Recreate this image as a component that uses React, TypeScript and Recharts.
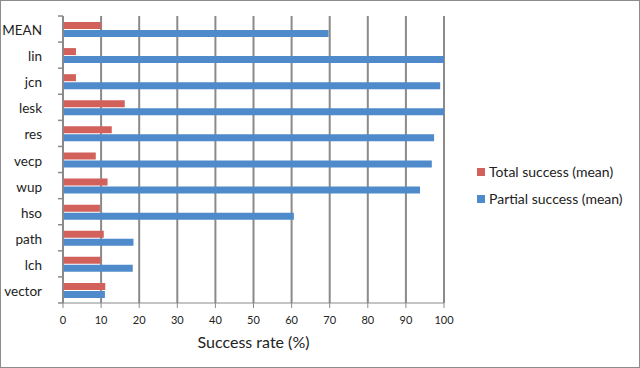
import React from "react";
import { BarChart, Bar, XAxis, YAxis, CartesianGrid, Legend } from "recharts";

const categories = ["MEAN", "lin", "jcn", "lesk", "res", "vecp", "wup", "hso", "path", "lch", "vector"];
const totalSuccess = [10, 3.4, 3.4, 16.2, 12.8, 8.6, 11.7, 9.7, 10.7, 9.9, 11.1];
const partialSuccess = [69.7, 100, 99, 100, 97.4, 96.8, 93.7, 60.6, 18.5, 18.3, 11];
const xTicks = [0, 10, 20, 30, 40, 50, 60, 70, 80, 90, 100];

const RED = "#d2605b";
const BLUE = "#4f8bca";
const GRAY = "#8a8a8a";
const FONT = "Lato, 'Noto Sans', sans-serif";
const TICK_GAP = 21;

const data = categories.map((c, i) => ({
  name: c,
  total: totalSuccess[i],
  partial: partialSuccess[i],
}));

const legendItems = [
  { label: "Total success (mean)", color: RED },
  { label: "Partial success (mean)", color: BLUE },
];

const LegendContent = () => (
  <div style={{ fontFamily: FONT, fontSize: 14, color: "#222" }}>
    {legendItems.map((it) => (
      <div key={it.label} style={{ display: "flex", alignItems: "center", height: 27 }}>
        <span style={{ width: 8, height: 8, background: it.color, display: "inline-block", marginRight: 4 }} />
        <span>{it.label}</span>
      </div>
    ))}
  </div>
);

const CategoryTick = (props: any) => {
  const { x, y, payload, index, visibleTicksCount } = props;
  const half = payload && payload.offset ? payload.offset : 287 / 22;
  const axisX = x + TICK_GAP;
  const last = index === (visibleTicksCount ?? categories.length) - 1;
  return (
    <g>
      <line x1={axisX - 5} x2={axisX} y1={y - half} y2={y - half} stroke={GRAY} strokeWidth={1.5} />
      {last && <line x1={axisX - 5} x2={axisX} y1={y + half} y2={y + half} stroke={GRAY} strokeWidth={1.5} />}
      <text x={x} y={y} dy={6} textAnchor="end" fontSize={13.5} fill="#222" fontFamily={FONT}>
        {payload.value}
      </text>
    </g>
  );
};

export default function App() {
  return (
    <div
      style={{
        position: "absolute",
        left: 0,
        top: 0,
        width: 640,
        height: 368,
        boxSizing: "border-box",
        border: "1px solid #8c8c8c",
        background: "#fff",
      }}
    >
      <div style={{ position: "absolute", left: -1, top: -1 }}>
        <BarChart
          width={640}
          height={368}
          data={data}
          layout="vertical"
          margin={{ top: 16, right: 196, bottom: 10, left: 11 }}
          barCategoryGap="22%"
          barGap={1}
        >
          <CartesianGrid horizontal={false} vertical={true} stroke={GRAY} strokeWidth={2} />
          <XAxis
            type="number"
            domain={[0, 100]}
            ticks={xTicks}
            interval={0}
            height={55}
            stroke={GRAY}
            tickSize={5}
            tickMargin={8}
            tick={{ fontSize: 11, fill: "#222", fontFamily: FONT }}
            label={{
              value: "Success rate (%)",
              position: "insideBottom",
              offset: 10,
              style: { fontSize: 16, fill: "#222", fontFamily: FONT },
            }}
          />
          <YAxis
            type="category"
            dataKey="name"
            width={52}
            axisLine={{ stroke: GRAY, strokeWidth: 1.5 }}
            tickLine={false}
            tickSize={0}
            tickMargin={TICK_GAP}
            interval={0}
            tick={<CategoryTick />}
          />
          <Legend
            layout="vertical"
            align="center"
            verticalAlign="middle"
            content={<LegendContent />}
            wrapperStyle={{ position: "absolute", left: 477, top: 158, width: 170 }}
          />
          <Bar dataKey="total" name="Total success (mean)" fill={RED} barSize={7} isAnimationActive={false} />
          <Bar dataKey="partial" name="Partial success (mean)" fill={BLUE} barSize={7} isAnimationActive={false} />
        </BarChart>
      </div>
    </div>
  );
}
